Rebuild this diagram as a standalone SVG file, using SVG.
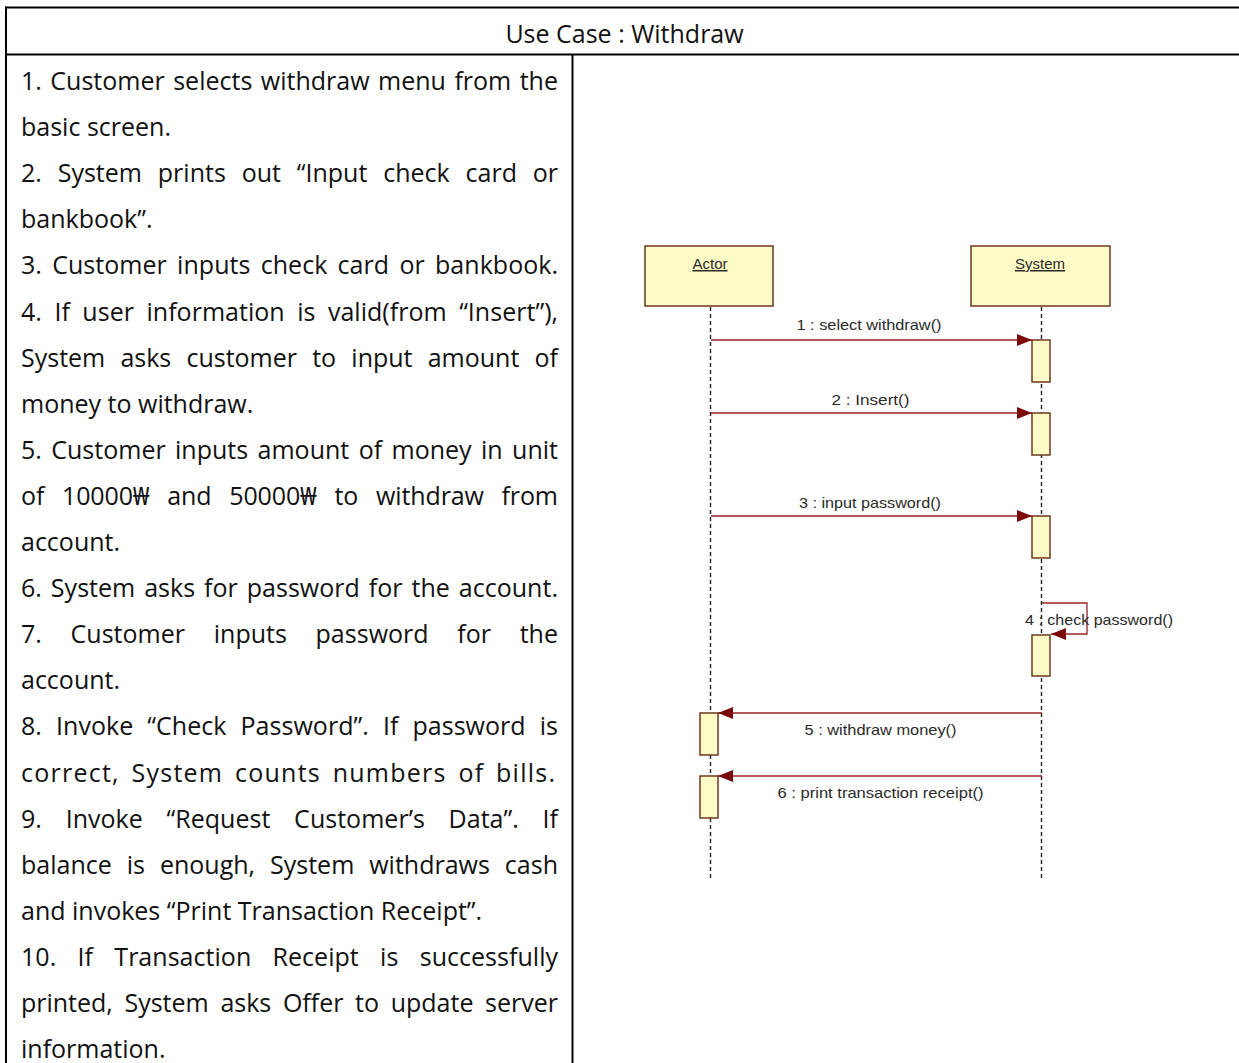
<svg xmlns="http://www.w3.org/2000/svg" width="1239" height="1063" viewBox="0 0 1239 1063">
  <style>
    .grid { stroke: #000; stroke-width: 2; fill: none; }
    .body { font-family: "Open Sans", "Noto Sans", "Noto Sans CJK KR", sans-serif; font-size: 25px; fill: #111; }
    .head { font-family: "Open Sans", "Noto Sans", sans-serif; font-size: 25px; fill: #111; text-anchor: middle; }
    .obj { fill: #FFFBC6; stroke: #6E3A1C; stroke-width: 1.5; }
    .act { fill: #FFFBC6; stroke: #6E3A1C; stroke-width: 1.5; }
    .life { stroke: #222; stroke-width: 1.4; stroke-dasharray: 4 3; fill: none; }
    .msg { stroke: #9A2424; stroke-width: 1.3; fill: none; marker-end: url(#ah); }
    .lbl { font-family: "Liberation Sans", Arial, sans-serif; font-size: 15px; fill: #2a2a2a; text-anchor: middle; }
  </style>
  <defs>
    <marker id="ah" viewBox="0 0 15 12" refX="15" refY="6" markerWidth="15" markerHeight="12" markerUnits="userSpaceOnUse" orient="auto">
      <path d="M0,0 L15,6 L0,12 z" fill="#7A0A0A"/>
    </marker>
  </defs>

  <rect width="1239" height="1063" fill="#fff"/>

  <!-- table frame -->
  <g id="table">
    <line class="grid" x1="5" y1="7.5" x2="1239" y2="7.5"/>
    <line class="grid" x1="5" y1="54.5" x2="1239" y2="54.5"/>
    <line class="grid" x1="6" y1="6.5" x2="6" y2="1063"/>
    <line class="grid" x1="572.5" y1="54.5" x2="572.5" y2="1063"/>
    <text class="head" x="624.5" y="43">Use Case : Withdraw</text>
  </g>

  <!-- scenario steps -->
  <g id="steps" class="body">
    <text x="21" y="90" word-spacing="1.9" textLength="537" lengthAdjust="spacing">1. Customer selects withdraw menu from the</text>
    <text x="21" y="136.1">basic screen.</text>
    <text x="21" y="182.2" word-spacing="9.3" textLength="537" lengthAdjust="spacing">2. System prints out “Input check card or</text>
    <text x="21" y="228.3">bankbook”.</text>
    <text x="21" y="274.4" word-spacing="3.8" textLength="537" lengthAdjust="spacing">3. Customer inputs check card or bankbook.</text>
    <text x="21" y="320.5" word-spacing="6" textLength="537" lengthAdjust="spacing">4. If user information is valid(from “Insert”),</text>
    <text x="21" y="366.6" word-spacing="8.7" textLength="537" lengthAdjust="spacing">System asks customer to input amount of</text>
    <text x="21" y="412.7">money to withdraw.</text>
    <text x="21" y="458.8" word-spacing="2.9" textLength="537" lengthAdjust="spacing">5. Customer inputs amount of money in unit</text>
    <text x="21" y="504.9" word-spacing="11.5" textLength="537" lengthAdjust="spacing">of 10000₩ and 50000₩ to withdraw from</text>
    <text x="21" y="551">account.</text>
    <text x="21" y="597.1" word-spacing="2.4" textLength="537" lengthAdjust="spacing">6. System asks for password for the account.</text>
    <text x="21" y="643.2" word-spacing="22.2" textLength="537" lengthAdjust="spacing">7. Customer inputs password for the</text>
    <text x="21" y="689.3">account.</text>
    <text x="21" y="735.4" word-spacing="7.5" textLength="537" lengthAdjust="spacing">8. Invoke “Check Password”. If password is</text>
    <text x="21" y="781.5" word-spacing="4" textLength="534" lengthAdjust="spacing">correct, System counts numbers of bills.</text>
    <text x="21" y="827.6" word-spacing="17.2" textLength="537" lengthAdjust="spacing">9. Invoke “Request Customer’s Data”. If</text>
    <text x="21" y="873.7" word-spacing="8.4" textLength="537" lengthAdjust="spacing">balance is enough, System withdraws cash</text>
    <text x="21" y="919.8">and invokes “Print Transaction Receipt”.</text>
    <text x="21" y="965.9" word-spacing="14.8" textLength="537" lengthAdjust="spacing">10. If Transaction Receipt is successfully</text>
    <text x="21" y="1012" word-spacing="5.2" textLength="537" lengthAdjust="spacing">printed, System asks Offer to update server</text>
    <text x="21" y="1058.1">information.</text>
  </g>

  <!-- lifelines -->
  <g id="lifelines">
    <line class="life" x1="710.5" y1="307" x2="710.5" y2="880"/>
    <line class="life" x1="1041.5" y1="307" x2="1041.5" y2="880"/>
  </g>

  <g id="actor">
    <rect class="obj" x="645" y="246" width="128" height="60"/>
    <text class="lbl" x="710" y="269" text-decoration="underline">Actor</text>
  </g>
  <g id="system">
    <rect class="obj" x="971" y="246" width="139" height="60"/>
    <text class="lbl" x="1040" y="269" text-decoration="underline">System</text>
  </g>

  <!-- activation bars -->
  <g id="activations">
    <rect class="act" x="1032" y="340" width="18" height="42"/>
    <rect class="act" x="1032" y="413" width="18" height="42"/>
    <rect class="act" x="1032" y="516" width="18" height="42"/>
    <rect class="act" x="1032" y="635" width="18" height="41"/>
    <rect class="act" x="700" y="713" width="18" height="42"/>
    <rect class="act" x="700" y="776" width="18" height="42"/>
  </g>

  <!-- messages -->
  <g id="connectors">
    <line class="msg" x1="711" y1="340" x2="1032" y2="340"/>
    <line class="msg" x1="711" y1="413" x2="1032" y2="413"/>
    <line class="msg" x1="711" y1="516" x2="1032" y2="516"/>
    <polyline class="msg" points="1042,603 1087,603 1087,634 1051,634"/>
    <line class="msg" x1="1042" y1="713" x2="718" y2="713"/>
    <line class="msg" x1="1042" y1="776" x2="718" y2="776"/>
  </g>

  <g id="message-labels">
    <text class="lbl" x="869" y="330" textLength="145" lengthAdjust="spacingAndGlyphs">1 : select withdraw()</text>
    <text class="lbl" x="870.5" y="405" textLength="78" lengthAdjust="spacingAndGlyphs">2 : Insert()</text>
    <text class="lbl" x="870" y="508" textLength="142" lengthAdjust="spacingAndGlyphs">3 : input password()</text>
    <text class="lbl" x="1099" y="625" textLength="148" lengthAdjust="spacingAndGlyphs">4 : check password()</text>
    <text class="lbl" x="880.5" y="735" textLength="152" lengthAdjust="spacingAndGlyphs">5 : withdraw money()</text>
    <text class="lbl" x="880.5" y="798" textLength="206" lengthAdjust="spacingAndGlyphs">6 : print transaction receipt()</text>
  </g>
</svg>
